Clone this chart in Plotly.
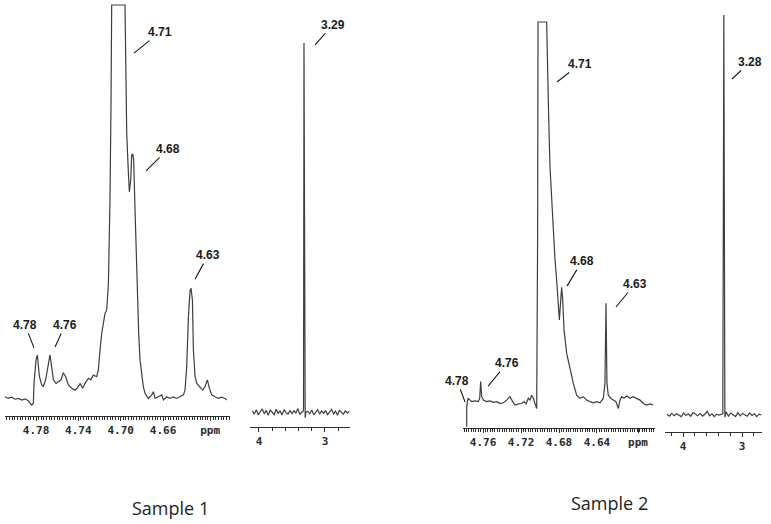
import plotly.graph_objects as go

# ---------------- data (ppm, relative intensity; 100 = recorder clip / full scale) ----------------
S1_MAIN_PPM = [4.8093, 4.8061, 4.8030, 4.7998, 4.7967, 4.7935, 4.7904, 4.7872, 4.7841, 4.7825,
               4.7819, 4.7800, 4.7787, 4.7768, 4.7746, 4.7731, 4.7709, 4.7683, 4.7668, 4.7652,
               4.7636, 4.7611, 4.7589, 4.7564, 4.7542, 4.7520, 4.7494, 4.7463, 4.7431, 4.7400,
               4.7384, 4.7359, 4.7337, 4.7305, 4.7283, 4.7258, 4.7227, 4.7211, 4.7195, 4.7179,
               4.7148, 4.7132, 4.7116, 4.7101, 4.7091, 4.7085, 4.6959, 4.6949, 4.6943, 4.6927,
               4.6918, 4.6905, 4.6896, 4.6886, 4.6877, 4.6867, 4.6855, 4.6842, 4.6830, 4.6817,
               4.6801, 4.6786, 4.6770, 4.6738, 4.6707, 4.6691, 4.6675, 4.6644, 4.6612, 4.6596,
               4.6565, 4.6533, 4.6502, 4.6470, 4.6439, 4.6407, 4.6392, 4.6376, 4.6360, 4.6344,
               4.6335, 4.6322, 4.6313, 4.6297, 4.6281, 4.6250, 4.6225, 4.6203, 4.6181, 4.6162,
               4.6140, 4.6108, 4.6077, 4.6045, 4.6014, 4.5998]
S1_MAIN_INT = [0.8, 0.4, 0.7, 0.2, 0.4, 0.0, 0.3, -0.2, -1.3, -0.8,
               4.2, 10.1, 11.4, 5.9, 3.8, 3.4, 5.1, 9.3, 11.4, 8.4,
               5.1, 4.2, 4.6, 5.1, 6.9, 5.9, 3.8, 3.0, 2.5, 3.4,
               4.2, 3.0, 4.2, 5.5, 5.1, 6.3, 5.9, 7.6, 12.7, 16.9,
               21.9, 22.8, 29.5, 50.6, 75.9, 100.0, 100.0, 84.4, 67.5, 57.4,
               52.7, 55.7, 62.0, 62.3, 60.8, 50.6, 38.0, 25.3, 16.9, 10.1,
               6.8, 3.4, 1.7, 0.4, 1.3, 2.1, 0.4, 0.8, 1.3, 0.0,
               0.8, 0.4, 0.8, 0.4, 0.8, 1.3, 2.5, 8.4, 21.1, 27.8,
               28.3, 25.3, 12.7, 5.9, 4.2, 3.4, 2.5, 3.4, 5.1, 3.0,
               1.3, 0.8, 0.4, 0.7, 0.4, 0.0]

S1_REF_PPM = [4.10, 4.07, 4.04, 4.01, 3.98, 3.95, 3.92, 3.89, 3.86, 3.83, 3.80, 3.77, 3.74,
              3.71, 3.68, 3.65, 3.62, 3.59, 3.56, 3.53, 3.50, 3.47, 3.44, 3.41, 3.38, 3.35,
              3.335, 3.325, 3.318, 3.308, 3.300, 3.290,
              3.26, 3.23, 3.20, 3.17, 3.14, 3.11, 3.08, 3.05, 3.02, 2.99, 2.96, 2.93, 2.90,
              2.87, 2.84, 2.81, 2.78, 2.75, 2.72, 2.69, 2.66, 2.63]
S1_REF_INT = [0.6, -0.3, 0.9, -0.5, 0.4, 1.1, -0.2, 0.7, -0.6, 0.8, 0.2, -0.4, 1.0,
              -0.1, 0.5, -0.5, 0.9, 0.1, -0.3, 0.7, -0.2, 0.6, 0.0, 1.2, -0.4, 0.3,
              0.3, 1.0, 100.0, 1.5, -1.3, 0.2,
              0.5, -0.2, 0.8, -0.5, 0.3, 0.9, -0.3, 0.6, -0.1, 0.7, -0.4, 0.4, 1.0,
              -0.2, 0.5, -0.6, 0.8, 0.1, -0.3, 0.6, 0.0, 0.4]

S2_MAIN_PPM = [4.7772, 4.7772, 4.7758, 4.7737, 4.7719, 4.7684, 4.7649, 4.7635, 4.7625, 4.7614,
               4.7596, 4.7561, 4.7526, 4.7491, 4.7456, 4.7421, 4.7386, 4.7351, 4.7316, 4.7288,
               4.7263, 4.7228, 4.7193, 4.7168, 4.7147, 4.7123, 4.7105, 4.7088, 4.7070, 4.7053,
               4.7035, 4.7025, 4.7021, 4.6930, 4.6923, 4.6909, 4.6895, 4.6877, 4.6860, 4.6842,
               4.6825, 4.6807, 4.6796, 4.6782, 4.6772, 4.6761, 4.6747, 4.6719, 4.6684, 4.6649,
               4.6614, 4.6579, 4.6544, 4.6509, 4.6474, 4.6439, 4.6404, 4.6368, 4.6333, 4.6316,
               4.6305, 4.6295, 4.6281, 4.6256, 4.6228, 4.6200, 4.6175, 4.6158, 4.6140, 4.6116,
               4.6088, 4.6053, 4.6018, 4.5982, 4.5947, 4.5912, 4.5877, 4.5842, 4.5807]
S2_MAIN_INT = [-6.5, -1.2, 1.0, 0.5, 0.1, 0.3, 0.1, 1.0, 5.4, 1.4,
               0.5, 0.1, 0.3, -0.1, 0.1, -0.4, -0.2, 0.5, 1.4, 0.1,
               -0.8, -0.5, -0.4, 0.1, -0.5, 1.0, 0.5, 1.8, 1.0, -0.4,
               -1.7, 44.4, 100.0, 100.0, 88.2, 75.1, 61.9, 53.2, 44.4, 37.4,
               32.1, 26.0, 21.6, 26.8, 30.2, 26.8, 18.9, 12.8, 8.4, 4.9,
               1.8, 1.0, 1.4, 0.5, 0.1, -0.2, 0.1, -0.2, 1.0, 4.9,
               26.0, 4.9, 1.8, 1.0, 0.5, 0.1, -1.7, 0.5, 1.4, 1.0,
               1.6, 1.0, 1.4, 1.0, 0.5, -0.4, -0.8, -0.5, -0.8]

S2_REF_PPM = [4.27, 4.23, 4.19, 4.15, 4.11, 4.07, 4.03, 3.99, 3.95, 3.91, 3.87, 3.83,
              3.79, 3.75, 3.71, 3.67, 3.63, 3.59, 3.55, 3.51, 3.47, 3.43, 3.39, 3.35,
              3.325, 3.308, 3.298, 3.290,
              3.27, 3.23, 3.19, 3.15, 3.11, 3.07, 3.03, 2.99, 2.95, 2.91, 2.87, 2.83,
              2.79, 2.75, 2.71, 2.67]
S2_REF_INT = [0.2, -0.3, 0.4, -0.2, 0.3, 0.0, -0.4, 0.5, -0.1, 0.3, -0.3, 0.6,
              0.1, -0.2, 0.4, -0.3, 0.2, 0.9, -0.2, 0.3, -0.4, 0.2, 0.0, 0.3,
              0.3, 100.0, 1.5, -0.5,
              0.8, -0.3, 0.5, 0.1, -0.4, 0.6, -0.2, 0.4, 0.0, -0.3, 0.5, -0.1,
              0.3, -0.4, 0.2, 0.0]

S1_MAIN_TICKS = [4.78, 4.74, 4.70, 4.66, 4.6155]
S1_MAIN_TICKTEXT = ["4.78", "4.74", "4.70", "4.66", "ppm"]
S2_MAIN_TICKS = [4.76, 4.72, 4.68, 4.64, 4.5968]
S2_MAIN_TICKTEXT = ["4.76", "4.72", "4.68", "4.64", "ppm"]
REF_TICKS = [4, 3]
REF_TICKTEXT = ["4", "3"]

# peak labels: (text, ppm, intensity at leader end)
S1_MAIN_LABELS = ["4.71", "4.68", "4.63", "4.78", "4.76"]
S1_MAIN_LABEL_PPM = [4.6874, 4.6760, 4.6297, 4.7819, 4.7620]
S1_MAIN_LABEL_INT = [87.8, 58.0, 30.6, 13.2, 13.4]
S1_REF_LABELS = ["3.29"]
S1_REF_LABEL_PPM = [3.1515]
S1_REF_LABEL_INT = [99.5]
S2_MAIN_LABELS = ["4.71", "4.68", "4.63", "4.76", "4.78"]
S2_MAIN_LABEL_PPM = [4.6821, 4.6716, 4.6200, 4.7547, 4.7789]
S2_MAIN_LABEL_INT = [84.2, 30.5, 25.0, 4.2, 0.0]
S2_REF_LABELS = ["3.28"]
S2_REF_LABEL_PPM = [3.1695]
S2_REF_LABEL_INT = [84.0]

CAPTIONS = ["Sample 1", "Sample 2"]

# ---------------- layout helpers (pixel geometry of the 771x524 canvas) ----------------
W, H = 771, 524


def xdom(a, b):
    return [a / W, b / W]


def ydom(top, bottom):
    return [1 - bottom / H, 1 - top / H]


LINE = "#3e3e3e"
AX = "#2e2e2e"
TICKFONT = dict(family="DejaVu Sans Mono", size=11, color="#2a2a2a", weight="bold")
LABELFONT = dict(family="Liberation Sans", size=12, color="#1a1a1a", weight="bold")

fig = go.Figure()
series = [(S1_MAIN_PPM, S1_MAIN_INT), (S1_REF_PPM, S1_REF_INT),
          (S2_MAIN_PPM, S2_MAIN_INT), (S2_REF_PPM, S2_REF_INT)]
for i, (px, py) in enumerate(series):
    sfx = "" if i == 0 else str(i + 1)
    fig.add_trace(go.Scatter(x=px, y=py, mode="lines", xaxis="x" + sfx, yaxis="y" + sfx,
                             line=dict(color=LINE, width=1.2), showlegend=False,
                             hoverinfo="skip"))

panels = [
    dict(xd=xdom(5, 230), yd=ydom(4, 416), xr=[4.8093, 4.5967], yr=[-4.05, 100.25],
         tv=S1_MAIN_TICKS, tt=S1_MAIN_TICKTEXT, md=0.0025),
    dict(xd=xdom(250, 350), yd=ydom(40, 427), xr=[4.136, 2.621], yr=[-3.78, 100.8],
         tv=REF_TICKS, tt=REF_TICKTEXT, md=0.2),
    dict(xd=xdom(463, 655), yd=ydom(21, 428), xr=[4.7811, 4.5789], yr=[-6.84, 100.26],
         tv=S2_MAIN_TICKS, tt=S2_MAIN_TICKTEXT, md=0.0025),
    dict(xd=xdom(665, 762), yd=ydom(13, 432), xr=[4.305, 2.661], yr=[-4.25, 100.5],
         tv=REF_TICKS, tt=REF_TICKTEXT, md=0.2),
]
lay = {}
for i, p in enumerate(panels):
    sfx = "" if i == 0 else str(i + 1)
    lay["xaxis" + sfx] = dict(domain=p["xd"], range=p["xr"], anchor="y" + sfx,
                              showline=True, linecolor=AX, linewidth=1, mirror=False,
                              ticks="outside", ticklen=4, tickwidth=1, tickcolor=AX,
                              tickmode="array", tickvals=p["tv"], ticktext=p["tt"],
                              tickfont=TICKFONT, showgrid=False, zeroline=False,
                              minor=dict(dtick=p["md"], tick0=0, ticks="outside", ticklen=3,
                                         tickwidth=1, tickcolor=AX, showgrid=False),
                              fixedrange=True)
    lay["yaxis" + sfx] = dict(domain=p["yd"], range=p["yr"], anchor="x" + sfx,
                              visible=False, fixedrange=True)

annotations = []
label_sets = [
    ("", S1_MAIN_LABELS, S1_MAIN_LABEL_PPM, S1_MAIN_LABEL_INT, [(26, -21), (22, -22), (13, -24), (-9, -23), (10, -22)]),
    ("2", S1_REF_LABELS, S1_REF_LABEL_PPM, S1_REF_LABEL_INT, [(18, -20)]),
    ("3", S2_MAIN_LABELS, S2_MAIN_LABEL_PPM, S2_MAIN_LABEL_INT, [(23, -18), (15, -25), (19, -23), (19, -23), (-8, -21)]),
    ("4", S2_REF_LABELS, S2_REF_LABEL_PPM, S2_REF_LABEL_INT, [(18, -17)]),
]
for sfx, texts, xs, ys, offs in label_sets:
    for t, xv, yv, (ax, ay) in zip(texts, xs, ys, offs):
        annotations.append(dict(text=t, x=xv, y=yv, xref="x" + sfx, yref="y" + sfx,
                                showarrow=True, arrowhead=0, arrowwidth=1.1,
                                arrowcolor="#1a1a1a", ax=ax, ay=ay, standoff=0,
                                borderpad=1, font=LABELFONT))

for cap, cx, cy in zip(CAPTIONS, [170, 609], [508, 503]):
    annotations.append(dict(text=cap, x=cx / W, y=1 - cy / H, xref="paper", yref="paper",
                            showarrow=False, xanchor="center", yanchor="middle",
                            font=dict(family="Open Sans", size=18, color="#1e1e1e")))

fig.update_layout(width=W, height=H, margin=dict(l=0, r=0, t=0, b=0),
                  paper_bgcolor="white", plot_bgcolor="white",
                  showlegend=False, annotations=annotations, **lay)

fig.write_html("out.html", config={"displayModeBar": False},
               post_script="document.body.style.margin='0';document.body.style.overflow='hidden';")
